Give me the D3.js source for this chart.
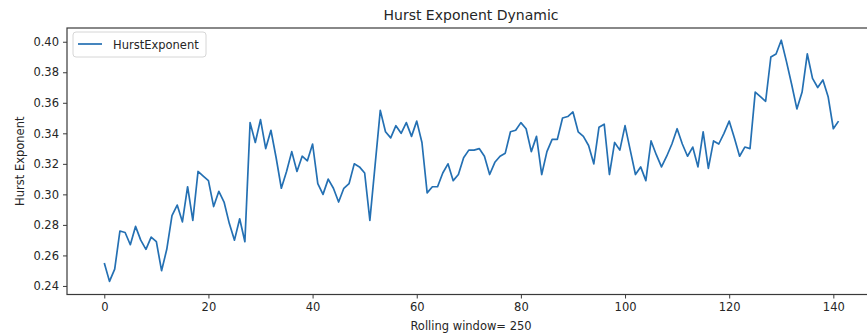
<!DOCTYPE html>
<html>
<head>
<meta charset="utf-8">
<script src="https://cdn.jsdelivr.net/npm/d3@7"></script>
<style>
  html, body { margin: 0; padding: 0; background: #fff; }
  svg { display: block; }
  text { font-family: "DejaVu Sans", sans-serif; fill: #262626; }
</style>
</head>
<body>
<svg id="chart" width="867" height="336"></svg>
<script>
// Hurst exponent for each rolling window step
const steps = d3.range(0, 142);
const hurst = [
  0.255, 0.243, 0.251, 0.276, 0.275, 0.267, 0.279, 0.270, 0.264, 0.272,
  0.269, 0.250, 0.264, 0.286, 0.293, 0.282, 0.305, 0.283, 0.315, 0.312,
  0.309, 0.292, 0.302, 0.295, 0.281, 0.270, 0.284, 0.269, 0.347, 0.334,
  0.349, 0.330, 0.342, 0.324, 0.304, 0.315, 0.328, 0.315, 0.325, 0.322,
  0.333, 0.307, 0.300, 0.310, 0.304, 0.295, 0.304, 0.307, 0.320, 0.318,
  0.314, 0.283, 0.319, 0.355, 0.341, 0.337, 0.345, 0.340, 0.347, 0.338,
  0.348, 0.334, 0.301, 0.305, 0.305, 0.314, 0.320, 0.309, 0.313, 0.324,
  0.329, 0.329, 0.330, 0.325, 0.313, 0.321, 0.325, 0.327, 0.341, 0.342,
  0.347, 0.343, 0.328, 0.338, 0.313, 0.328, 0.336, 0.336, 0.350, 0.351,
  0.354, 0.341, 0.338, 0.332, 0.320, 0.344, 0.346, 0.313, 0.334, 0.329,
  0.345, 0.329, 0.313, 0.318, 0.309, 0.335, 0.326, 0.318, 0.325, 0.333,
  0.343, 0.333, 0.325, 0.331, 0.318, 0.341, 0.317, 0.335, 0.333, 0.340,
  0.348, 0.337, 0.325, 0.331, 0.330, 0.367, 0.364, 0.361, 0.390, 0.392,
  0.401, 0.387, 0.372, 0.356, 0.367, 0.392, 0.376, 0.370, 0.375, 0.364,
  0.343, 0.348
];
const xTicks = [0, 20, 40, 60, 80, 100, 120, 140];
const yTicks = [0.24, 0.26, 0.28, 0.30, 0.32, 0.34, 0.36, 0.38, 0.40];
const seriesName = "HurstExponent";

const svg = d3.select("#chart");
const plot = { left: 67, right: 875, top: 28, bottom: 294.5 };

const x = d3.scaleLinear().domain([-7.16, 148.0]).range([plot.left, plot.right]);
const y = d3.scaleLinear().domain([0.2344, 0.409]).range([plot.bottom, plot.top]);

const spine = "#3a3a3a";

// axes
const xAxis = svg.append("g")
  .attr("transform", `translate(0,${plot.bottom})`)
  .call(d3.axisBottom(x).tickValues(xTicks).tickFormat(d3.format("d")).tickSizeOuter(0).tickSize(4).tickPadding(4));
const yAxis = svg.append("g")
  .attr("transform", `translate(${plot.left},0)`)
  .call(d3.axisLeft(y).tickValues(yTicks).tickFormat(d3.format(".2f")).tickSizeOuter(0).tickSize(4).tickPadding(4));

[xAxis, yAxis].forEach(g => {
  g.select(".domain").remove();
  g.selectAll(".tick line").attr("stroke", spine).attr("stroke-width", 1);
  g.selectAll(".tick text")
    .attr("font-family", "DejaVu Sans, sans-serif")
    .attr("font-size", 11.5)
    .attr("fill", "#262626");
});

// frame
svg.append("rect")
  .attr("x", plot.left).attr("y", plot.top)
  .attr("width", plot.right - plot.left).attr("height", plot.bottom - plot.top)
  .attr("fill", "none").attr("stroke", spine).attr("stroke-width", 1.2);

// series line
const line = d3.line().x((d, i) => x(steps[i])).y(d => y(d));
svg.append("path")
  .datum(hurst)
  .attr("d", line)
  .attr("fill", "none")
  .attr("stroke", "#2470b3")
  .attr("stroke-width", 1.7)
  .attr("stroke-linejoin", "round");

// title and axis labels
svg.append("text")
  .attr("x", (plot.left + plot.right) / 2).attr("y", 20)
  .attr("text-anchor", "middle").attr("font-size", 14)
  .text("Hurst Exponent Dynamic");
svg.append("text")
  .attr("x", (plot.left + plot.right) / 2).attr("y", 330)
  .attr("text-anchor", "middle").attr("font-size", 11.5)
  .text("Rolling window= 250");
svg.append("text")
  .attr("transform", `translate(24,${(plot.top + plot.bottom) / 2}) rotate(-90)`)
  .attr("text-anchor", "middle").attr("font-size", 11.5)
  .text("Hurst Exponent");

// legend
const lg = svg.append("g").attr("transform", `translate(${plot.left + 6},${plot.top + 4})`);
lg.append("rect")
  .attr("width", 133).attr("height", 25).attr("rx", 3)
  .attr("fill", "#fff").attr("fill-opacity", 0.8)
  .attr("stroke", "#d6d6d6").attr("stroke-width", 1);
lg.append("line")
  .attr("x1", 5).attr("x2", 29).attr("y1", 12).attr("y2", 12)
  .attr("stroke", "#2470b3").attr("stroke-width", 1.7);
lg.append("text")
  .attr("x", 40).attr("y", 16.5).attr("font-size", 11.5)
  .text(seriesName);
</script>
</body>
</html>
